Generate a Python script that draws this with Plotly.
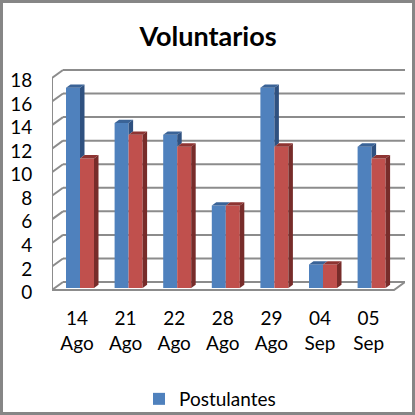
import plotly.graph_objects as go

days = ["14", "21", "22", "28", "29", "04", "05"]
months = ["Ago", "Ago", "Ago", "Ago", "Ago", "Sep", "Sep"]
postulantes = [17, 14, 13, 7, 17, 2, 12]
segunda_serie = [11, 13, 12, 7, 12, 2, 11]
y_ticks = list(range(0, 20, 2))

W = 415
PX_PER_CAT = 48.6
PX_PER_UNIT = 11.78
X0_PX = 80.0          # pixel of first category centre
XL, XR = 52.0, 405.0  # plot area in pixels
YB, YT = 296.0, 65.0
def xd(px): return (px - X0_PX) / PX_PER_CAT
def dx(px): return px / PX_PER_CAT
def dy(px): return px / PX_PER_UNIT

BLUE, RED = "#4F81BD", "#C0504D"
BLUE_SIDE, BLUE_TOP = "#2F5180", "#3A6397"
RED_SIDE, RED_TOP = "#772C2A", "#8E3432"
GRID = "#8C8C8C"
FONT = "Lato"
TEXT = "#000000"

idx = list(range(len(days)))
fig = go.Figure()

# walls, on the label axis (front wall value 0 sits at 290 px)
wall_dx, wall_dy = dx(11), dy(8)
gx, gy = [], []
for v in y_ticks:
    gx += [xd(XL) + wall_dx, xd(XR), None]
    gy += [v + wall_dy, v + wall_dy, None]
fig.add_trace(go.Scatter(x=gx, y=gy, mode="lines", line=dict(color=GRID, width=2),
                         hoverinfo="skip", showlegend=False))
dgx, dgy = [], []
for v in y_ticks:
    dgx += [xd(XL), xd(XL) + wall_dx, None]
    dgy += [v, v + wall_dy, None]
dgx += [xd(XL), xd(XL), None, xd(XL), xd(XR) - wall_dx, xd(XR)]
dgy += [0, 18, None, 0, 0, wall_dy]
fig.add_trace(go.Scatter(x=dgx, y=dgy, mode="lines", line=dict(color=GRID, width=2),
                         hoverinfo="skip", showlegend=False))

# front faces
fig.add_trace(go.Bar(x=idx, y=postulantes, name="Postulantes", marker=dict(color=BLUE, line_width=0),
                     yaxis="y2", showlegend=True))
fig.add_trace(go.Bar(x=idx, y=segunda_serie, name="Serie 2", marker=dict(color=RED, line_width=0),
                     yaxis="y2", showlegend=False))

# depth faces
BAR_GROUP = 28 / PX_PER_CAT
half = BAR_GROUP / 2
ddx, ddy = dx(4.5), dy(3.3)
def poly(xs, ys, color):
    fig.add_trace(go.Scatter(x=xs + xs[:1], y=ys + ys[:1], mode="lines", fill="toself", fillcolor=color,
                             line=dict(width=0, color=color), yaxis="y2", hoverinfo="skip", showlegend=False))
for i, a, b in zip(idx, postulantes, segunda_serie):
    if a > b:
        poly([i, i + ddx, i + ddx, i], [a, a + ddy, b + ddy, b], BLUE_SIDE)
    poly([i - half, i - half + ddx, i + ddx, i], [a, a + ddy, a + ddy, a], BLUE_TOP)
    poly([i, i + ddx, i + half + ddx, i + half], [b, b + ddy, b + ddy, b], RED_TOP)
    poly([i + half, i + half + ddx, i + half + ddx, i + half], [b, b + ddy, ddy, 0], RED_SIDE)

# second line of category labels lives on an overlaid axis
fig.add_trace(go.Scatter(x=idx, y=[None] * len(idx), xaxis="x2", hoverinfo="skip", showlegend=False))

tick_pos = [i + dx(-3) for i in idx]
x_range = [xd(XL), xd(XR)]
dom_x = [XL / W, XR / W]
dom_y = [1 - YB / W, 1 - YT / W]
y_range = [(290 - YB) / PX_PER_UNIT, (290 - YT) / PX_PER_UNIT]
y2_range = [(288 - YB) / PX_PER_UNIT, (288 - YT) / PX_PER_UNIT]
tickfont = dict(family=FONT, size=19, color=TEXT)

fig.update_layout(
    width=W, height=W, autosize=False,
    margin=dict(l=0, r=0, t=0, b=0, autoexpand=False),
    paper_bgcolor="white", plot_bgcolor="rgba(0,0,0,0)",
    barmode="group", bargap=1 - BAR_GROUP, bargroupgap=0,
    title=dict(text="<b>Voluntarios</b>", x=208 / W, xanchor="center", y=1 - 37 / W, yanchor="middle",
               yref="container", font=dict(family=FONT, size=27, color=TEXT)),
    xaxis=dict(domain=dom_x, range=x_range, tickmode="array", tickvals=tick_pos, ticktext=days,
               showgrid=False, zeroline=False, showline=False, ticks="outside", ticklen=5,
               tickcolor="rgba(0,0,0,0)", tickfont=tickfont),
    xaxis2=dict(domain=dom_x, range=x_range, overlaying="x", anchor="y", side="bottom", tickmode="array",
                tickvals=tick_pos, ticktext=months, showgrid=False, zeroline=False, showline=False,
                ticks="outside", ticklen=30, tickcolor="rgba(0,0,0,0)", tickfont=tickfont),
    yaxis=dict(domain=dom_y, range=y_range, tickmode="array", tickvals=[v - dy(2.5) for v in y_ticks],
               ticktext=[str(v) for v in y_ticks],
               showgrid=False, zeroline=False, showline=False, ticks="outside", ticklen=15,
               tickcolor="rgba(0,0,0,0)", tickfont=tickfont),
    yaxis2=dict(domain=dom_y, range=y2_range, overlaying="y", anchor="x", showgrid=False, zeroline=False,
                showline=False, showticklabels=False, ticks=""),
    legend=dict(x=210 / W, xanchor="center", y=1 - 399 / W, yanchor="middle",
                font=dict(family=FONT, size=19, color=TEXT), bgcolor="rgba(0,0,0,0)"),
    shapes=[dict(type="rect", xref="paper", yref="paper", x0=1.5 / W, x1=1 - 1.5 / W, y0=1.5 / W, y1=1 - 1.5 / W,
                 line=dict(color="#868686", width=3), fillcolor="rgba(0,0,0,0)", layer="above")],
)
fig.write_html("out.html", config=dict(displayModeBar=False),
               post_script="document.body.style.margin='0';document.documentElement.style.overflow='hidden';")
